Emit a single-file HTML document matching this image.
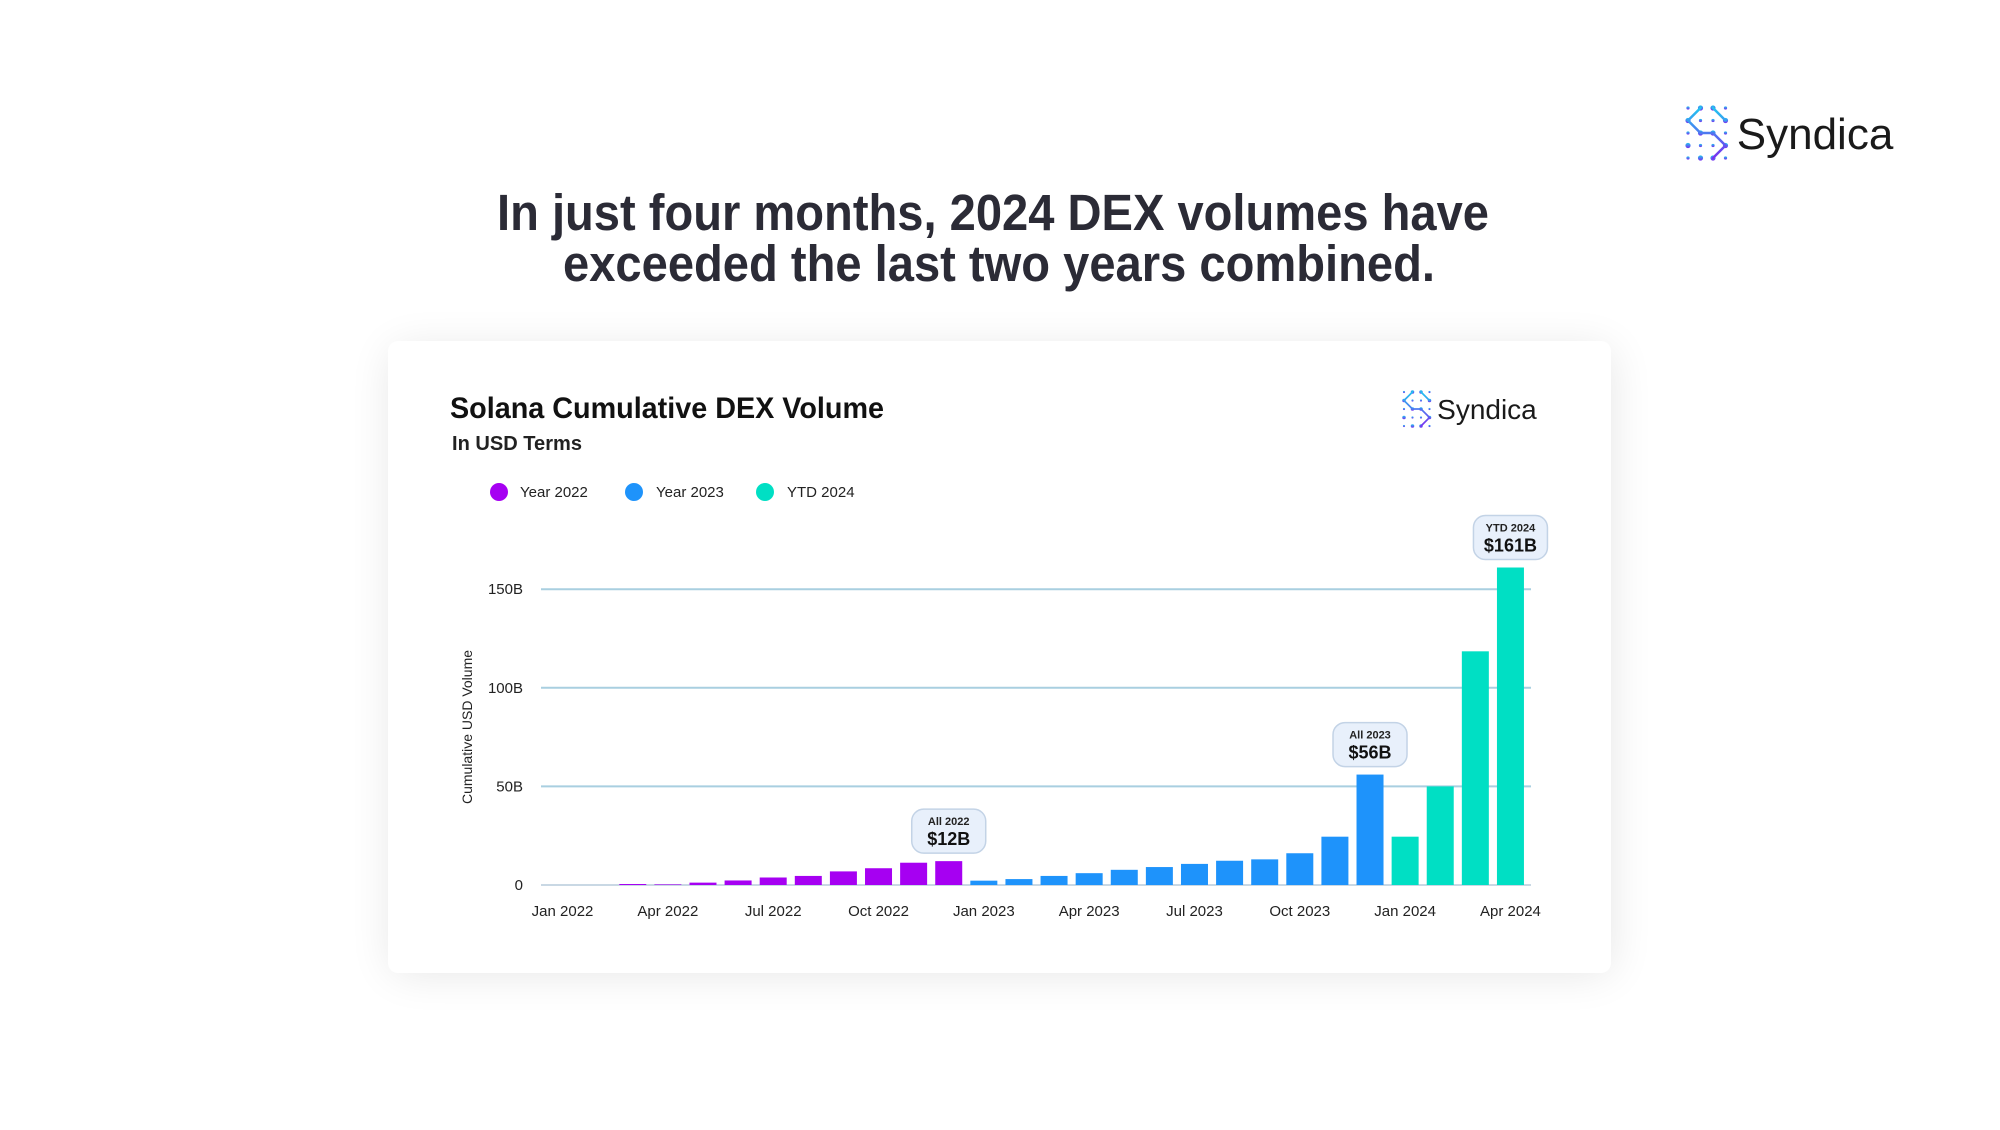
<!DOCTYPE html>
<html><head><meta charset="utf-8"><style>
html,body{margin:0;padding:0;background:#fff;}
body{width:2000px;height:1125px;position:relative;overflow:hidden;font-family:"Liberation Sans",sans-serif;}
</style></head><body>
<svg width="2000" height="1125" viewBox="0 0 2000 1125" xmlns="http://www.w3.org/2000/svg">
<defs>
<filter id="sh" x="-10%" y="-10%" width="120%" height="120%"><feGaussianBlur stdDeviation="22"/></filter>
<linearGradient id="lg" x1="0" y1="0" x2="0" y2="1"><stop offset="0" stop-color="#21c4f0"/><stop offset="1" stop-color="#7a2ff0"/></linearGradient>
</defs>
<text x="497" y="230" textLength="992" lengthAdjust="spacingAndGlyphs" font-size="51" font-weight="bold" fill="#2b2b36">In just four months, 2024 DEX volumes have</text>
<text x="563" y="281" textLength="872" lengthAdjust="spacingAndGlyphs" font-size="51" font-weight="bold" fill="#2b2b36">exceeded the last two years combined.</text>
<g id="logoTop"></g>
<rect x="392" y="349" width="1219" height="624" rx="10" fill="#000" opacity="0.10" filter="url(#sh)"/>
<rect x="388" y="341" width="1223" height="632" rx="10" fill="#fff"/>
<text x="450" y="418" textLength="434" lengthAdjust="spacingAndGlyphs" font-size="30" font-weight="bold" fill="#111">Solana Cumulative DEX Volume</text>
<text x="452" y="450" textLength="130" lengthAdjust="spacingAndGlyphs" font-size="20" font-weight="bold" fill="#222">In USD Terms</text>
<g id="logoCard"></g>
<g id="legend"></g>
<g id="plot"></g>
<text transform="translate(472,727) rotate(-90)" text-anchor="middle" font-size="14" fill="#222">Cumulative USD Volume</text>
</svg>
<script>
const months=["Jan 2022","Feb 2022","Mar 2022","Apr 2022","May 2022","Jun 2022","Jul 2022","Aug 2022","Sep 2022","Oct 2022","Nov 2022","Dec 2022","Jan 2023","Feb 2023","Mar 2023","Apr 2023","May 2023","Jun 2023","Jul 2023","Aug 2023","Sep 2023","Oct 2023","Nov 2023","Dec 2023","Jan 2024","Feb 2024","Mar 2024","Apr 2024"];
const values=[0,0,0.5,0.3,1.2,2.3,3.8,4.6,6.9,8.5,11.3,12.1,2.2,3.0,4.6,6.0,7.7,9.1,10.7,12.3,13.0,16.1,24.5,56,24.5,50,118.5,161];
const series=["Year 2022","Year 2023","YTD 2024"];
const colors=["#a600f2","#1e93fb","#00dfc4"];
const yTicks=[0,50,100,150];
const yTickLabels=["0","50B","100B","150B"];
const xTickIdx=[0,3,6,9,12,15,18,21,24,27];
const annotations=[{i:11,t:"All 2022",v:"$12B"},{i:23,t:"All 2023",v:"$56B"},{i:27,t:"YTD 2024",v:"$161B"}];
const NS="http://www.w3.org/2000/svg";
function el(tag,attrs,parent,text){const e=document.createElementNS(NS,tag);for(const k in attrs)e.setAttribute(k,attrs[k]);if(text!=null)e.textContent=text;parent.appendChild(e);return e;}
const L=545,R=1528,B=885,PER50=98.6;
const step=(R-L)/months.length,bw=27;
const y=v=>B-v/50*PER50;
const xc=i=>L+step*(i+0.5);
const plot=document.getElementById('plot');
yTicks.forEach((t,k)=>{
 const g=el('line',{x1:541,x2:1531,y1:y(t),y2:y(t),stroke:t===0?'#c9d8e4':'#a9cfe0','stroke-width':2},plot);
 
 const tx=el('text',{x:523,y:y(t)+5,'text-anchor':'end','font-size':15,fill:'#222'},plot,yTickLabels[k]);
 
});
values.forEach((v,i)=>{
 const s=i<12?0:i<24?1:2;
 const r=el('rect',{x:xc(i)-bw/2,y:y(v),width:bw,height:Math.max(0,B-y(v)),fill:colors[s]},plot);
 
 
});
xTickIdx.forEach(i=>{
 const t=el('text',{x:xc(i),y:916,'text-anchor':'middle','font-size':15,fill:'#222'},plot,months[i]);
 
});
annotations.forEach(a=>{
 const cx=xc(a.i),top=y(values[a.i])-52,w=74;
 const g=el('g',{},plot);
 
 
 el('rect',{x:cx-w/2,y:top,width:w,height:44,rx:12,fill:'#e8f0fb',stroke:'#c3d3e6','stroke-width':1.5},g);
 el('text',{x:cx,y:top+16,'text-anchor':'middle','font-size':11,'font-weight':'bold',fill:'#222'},g,a.t);
 el('text',{x:cx,y:top+36,'text-anchor':'middle','font-size':18,'font-weight':'bold',fill:'#111'},g,a.v);
});
const lg=document.getElementById('legend');
[[499,520],[634,656],[765,787]].forEach((p,k)=>{
 const g=el('g',{},lg);
 
 
 el('circle',{cx:p[0],cy:492,r:9,fill:colors[k]},g);
 el('text',{x:p[1],y:497,'font-size':15,fill:'#222'},g,series[k]);
});
function logo(g,x,yy,s,fs){
 const dots=[[0,0,1],[1,0,1.6],[2,0,1.6],[3,0,1],[0,1,1.6],[1,1,1],[2,1,1],[3,1,1.6],[0,2,1],[1,2,1.6],[2,2,1.6],[3,2,1],[0,3,1.6],[1,3,1],[2,3,1],[3,3,1.6],[0,4,1],[1,4,1.6],[2,4,1.6],[3,4,1]];
 dots.forEach(d=>el('circle',{cx:x+d[0]*s,cy:yy+d[1]*s,r:s*0.13*d[2],fill:'url(#lg)'},g));
 el('path',{d:`M${x+s} ${yy} L${x} ${yy+s} L${x+s} ${yy+2*s} L${x+2*s} ${yy+2*s} L${x+3*s} ${yy+3*s} L${x+2*s} ${yy+4*s} M${x+2*s} ${yy} L${x+3*s} ${yy+s}`,stroke:'url(#lg)','stroke-width':s*0.2,fill:'none','stroke-linecap':'round'},g);
 el('text',{x:x+3*s+s*0.9,y:yy+2*s+fs*0.36,'font-size':fs,fill:'#1a1a1a'},g,'Syndica');
}
logo(document.getElementById('logoTop'),1688,108,12.5,44);
logo(document.getElementById('logoCard'),1404,392,8.5,28);
</script>
</body></html>
